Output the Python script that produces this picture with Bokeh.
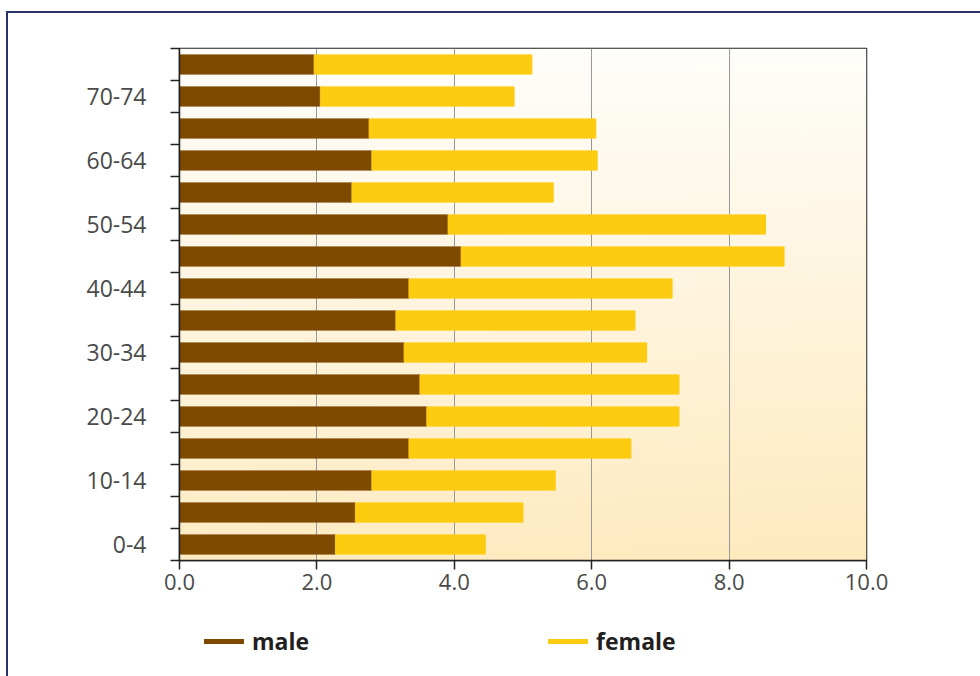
import numpy as np
from bokeh.plotting import figure
from bokeh.layouts import column
from bokeh.models import (FixedTicker, PrintfTickFormatter, Legend, LegendItem,
                          ColumnDataSource)
from bokeh.embed import file_html
from bokeh.resources import INLINE

# ---- data ----
categories = ["0-4", "5-9", "10-14", "15-19", "20-24", "25-29", "30-34", "35-39",
              "40-44", "45-49", "50-54", "55-59", "60-64", "65-69", "70-74", "75-79"]
male = [2.27, 2.56, 2.80, 3.34, 3.60, 3.50, 3.27, 3.15,
        3.34, 4.10, 3.91, 2.51, 2.80, 2.76, 2.05, 1.96]
female = [2.18, 2.44, 2.67, 3.23, 3.67, 3.77, 3.53, 3.48,
          3.83, 4.70, 4.62, 2.93, 3.28, 3.30, 2.82, 3.17]
x_ticks = [0, 2, 4, 6, 8, 10]

MALE_C = "#7E4A00"
FEMALE_C = "#FDCB10"
BORDER_C = "#26346A"
FONT = "Open Sans"

ypos = [i + 0.5 for i in range(len(categories))]
total = [m + f for m, f in zip(male, female)]
src = ColumnDataSource(dict(y=ypos, male=male, total=total, cat=categories))

H1 = 612
p = figure(width=980, height=H1, x_range=(0, 10), y_range=(0, len(categories)),
           output_backend="svg", toolbar_location=None,
           min_border_left=179, min_border_right=114, min_border_top=48,
           min_border_bottom=52, background_fill_color="white",
           border_fill_color="white", border_fill_alpha=0)

# page border painted behind the transparent canvas border area
p.styles = {
    "background": (f"linear-gradient({BORDER_C},{BORDER_C}) 6px 11px / 2px 700px no-repeat, "
                   f"linear-gradient({BORDER_C},{BORDER_C}) 6px 11px / 1000px 2px no-repeat, "
                   "white")
}

# gradient background of the plot area
ny, nx = 120, 120
yy, xx = np.mgrid[0:ny, 0:nx]
t = 1.0 - yy / (ny - 1)          # 1 at bottom row (y=0), 0 at top
t = np.clip(0.9 * t + 0.1 * (xx / (nx - 1)) * t, 0, 1)
top_c = np.array([255, 254, 251])
bot_c = np.array([254, 234, 190])
rgb = top_c[None, None, :] * (1 - t[..., None]) + bot_c[None, None, :] * t[..., None]
img = np.empty((ny, nx), dtype=np.uint32)
view = img.view(dtype=np.uint8).reshape((ny, nx, 4))
view[..., 0] = rgb[..., 0].astype(np.uint8)
view[..., 1] = rgb[..., 1].astype(np.uint8)
view[..., 2] = rgb[..., 2].astype(np.uint8)
view[..., 3] = 255
p.image_rgba(image=[img], x=0, y=0, dw=10, dh=len(categories), level="image")

# bars
p.hbar(y="y", left=0, right="male", height=0.6, color=MALE_C, source=src)
p.hbar(y="y", left="male", right="total", height=0.6, color=FEMALE_C, source=src)

# grid
p.ygrid.visible = False
p.xgrid.ticker = FixedTicker(ticks=[2, 4, 6, 8])
p.xgrid.grid_line_color = "#999999"
p.xgrid.grid_line_width = 1
p.xgrid.level = "underlay"

p.outline_line_color = "#222222"
p.outline_line_width = 1.5

# x axis
xa = p.xaxis[0]
xa.ticker = FixedTicker(ticks=x_ticks)
xa.formatter = PrintfTickFormatter(format="%.1f")
xa.axis_line_color = "#222222"
xa.axis_line_width = 1.5
xa.major_tick_line_color = "#222222"
xa.major_tick_line_width = 1.5
xa.major_tick_out = 9
xa.major_tick_in = 0
xa.minor_tick_line_color = None
xa.major_label_text_font = FONT
xa.major_label_text_font_size = "22px"
xa.major_label_text_color = "#4a4a4a"
xa.major_label_standoff = 4

# y axis: labels on every other category, ticks at boundaries
ya = p.yaxis[0]
label_pos = ypos[0::2]
ya.ticker = FixedTicker(ticks=label_pos, minor_ticks=list(range(len(categories) + 1)))
ya.major_label_overrides = {pos: lab for pos, lab in zip(label_pos, categories[0::2])}
ya.axis_line_color = "#222222"
ya.axis_line_width = 1.5
ya.major_tick_line_color = None
ya.major_tick_out = 0
ya.major_tick_in = 0
ya.minor_tick_line_color = "#222222"
ya.minor_tick_line_width = 1.5
ya.minor_tick_out = 9
ya.minor_tick_in = 0
ya.major_label_text_font = FONT
ya.major_label_text_font_size = "23px"
ya.major_label_text_color = "#4a4a4a"
ya.major_label_standoff = 24

# ---- legend strip below ----
q = figure(width=980, height=676 - H1, x_range=(0, 1), y_range=(0, 1),
           output_backend="svg", toolbar_location=None,
           x_axis_location=None, y_axis_location=None,
           min_border=0, min_border_left=0, min_border_right=0,
           min_border_top=0, min_border_bottom=0,
           background_fill_alpha=0, border_fill_alpha=0, outline_line_color=None)
q.grid.visible = False
q.styles = {
    "background": (f"linear-gradient({BORDER_C},{BORDER_C}) 6px 0px / 2px 200px no-repeat, "
                   "white")
}
lm = q.line(x=[-10, -9], y=[-10, -10], line_color=MALE_C, line_width=5, line_cap="round")
lf = q.line(x=[-10, -9], y=[-10, -10], line_color=FEMALE_C, line_width=5, line_cap="round")

legend = Legend(items=[LegendItem(label="male", renderers=[lm]),
                       LegendItem(label="female", renderers=[lf])],
                location=(25, 19), orientation="horizontal",
                border_line_color=None, background_fill_alpha=0,
                padding=0, margin=0, spacing=239,
                glyph_width=40, glyph_height=30, label_height=30,
                label_standoff=8, label_text_font=FONT,
                label_text_font_style="bold", label_text_font_size="23px",
                label_text_color="#231F20")
q.add_layout(legend, "center")

layout = column(p, q, spacing=0)
open("out.html", "w").write(file_html(layout, INLINE))
